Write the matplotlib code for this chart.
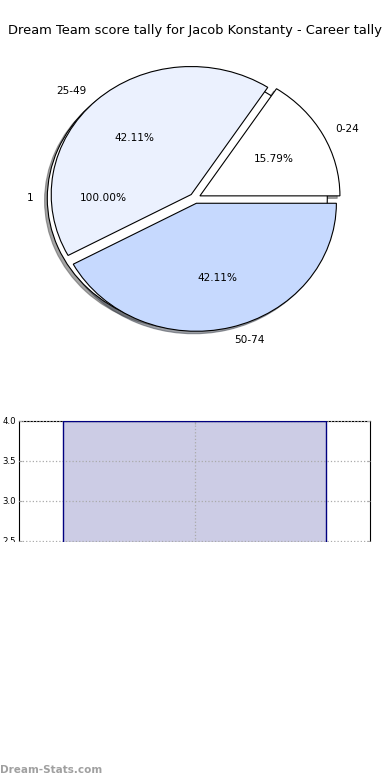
import matplotlib
matplotlib.use("Agg")
import matplotlib.pyplot as plt
from matplotlib.patches import Rectangle

# pie data
all_label = ["1"]
all_count = [1]
band_labels = ["0-24", "25-49", "50-74"]
band_counts = [3, 8, 8]
band_colors = ["#FFFFFF", "#EBF1FE", "#C6D9FE"]

# bar data
bar_x = [0]
bar_h = [4]
y_ticks = [0.0, 0.5, 1.0, 1.5, 2.0, 2.5, 3.0, 3.5, 4.0]

W, H = 390, 780
fig = plt.figure(figsize=(W / 100, H / 100), dpi=100)


def px(x0, y0, x1, y1):
    # pixel box (top-left origin) -> figure fraction rect
    return [x0 / W, 1 - y1 / H, (x1 - x0) / W, (y1 - y0) / H]


fig.text(194.5 / W, 1 - 30.5 / H, "Dream Team score tally for Jacob Konstanty - Career tally",
         ha="center", va="center", fontsize=9.4)

# pie: centre (195, 198), rx 140, ry 128 px
ax = fig.add_axes(px(20, 38.3, 370, 358.3))
wp = dict(edgecolor="black", linewidth=0.8)
tp = dict(fontsize=7.6)
shad = dict(ox=-0.014, oy=-0.014)
ax.pie(all_count, labels=all_label, colors=["white"], explode=[0.055],
       autopct="%.2f%%", shadow=shad, wedgeprops=wp, textprops=tp)
ax.pie(band_counts, labels=band_labels, colors=band_colors, explode=[0.04] * 3,
       autopct="%.2f%%", shadow=shad, wedgeprops=wp, textprops=tp)
ax.set_aspect("auto")
ax.set_xlim(-1.25, 1.25)
ax.set_ylim(-1.25, 1.25)
ax.axis("off")

# bar chart (lower part is cut off in the original)
ax2 = fig.add_axes(px(19, 421, 370, 741))
ax2.bar(bar_x, bar_h, width=0.8, color="navy", alpha=0.2, zorder=2)
ax2.bar(bar_x, bar_h, width=0.8, fill=False, edgecolor="navy", linewidth=1.0, zorder=3)
ax2.set_xlim(-0.532, 0.532)
ax2.set_ylim(0, 4)
ax2.set_yticks(y_ticks)
ax2.set_yticklabels(["%.1f" % t for t in y_ticks])
ax2.set_xticks(bar_x)
ax2.grid(True, linestyle=":", color="#AAAAAA", linewidth=0.9, zorder=4)
ax2.set_axisbelow(False)
ax2.tick_params(direction="in", length=2.5, labelsize=6.2, pad=2, right=True, top=True,
                color="#AAAAAA")
for s in ax2.spines.values():
    s.set_linewidth(0.8)

fig.patches.append(Rectangle((0, 0), 1, 1 - 541.5 / H, transform=fig.transFigure,
                             facecolor="white", edgecolor="none", zorder=10))
fig.text(0, 1 - 770 / H, "Dream-Stats.com", ha="left", va="center", fontsize=7.5,
         fontweight="bold", color="#A0A0A0", zorder=11)

fig.savefig("out.png", dpi=100)
